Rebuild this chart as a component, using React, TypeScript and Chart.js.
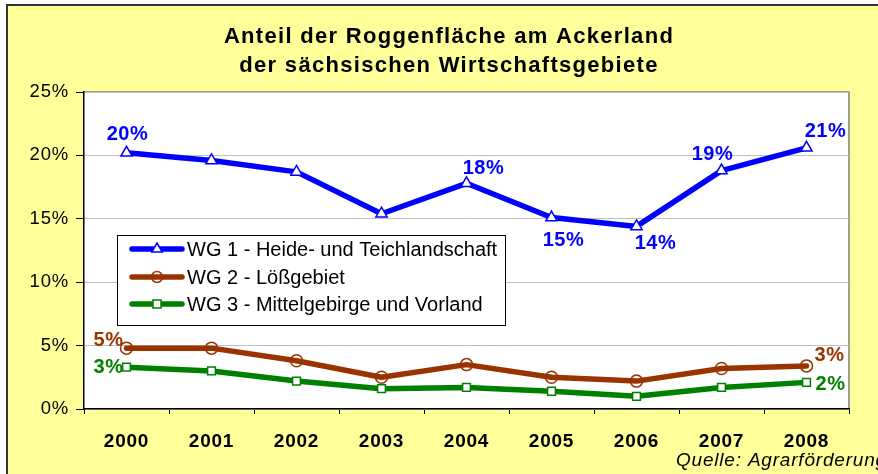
import { useEffect, useRef } from "react";
import { Chart, registerables } from "chart.js";

Chart.register(...registerables);

const years = ["2000", "2001", "2002", "2003", "2004", "2005", "2006", "2007", "2008"];
const wg1 = [20.2, 19.6, 18.7, 15.4, 17.8, 15.1, 14.4, 18.8, 20.6];
const wg2 = [4.8, 4.8, 3.8, 2.5, 3.5, 2.5, 2.2, 3.2, 3.4];
const wg3 = [3.3, 3.0, 2.2, 1.6, 1.7, 1.4, 1.0, 1.7, 2.1];
const seriesNames = [
  "WG 1 - Heide- und Teichlandschaft",
  "WG 2 - Lößgebiet",
  "WG 3 - Mittelgebirge und Vorland",
];
const titleLines = ["Anteil der Roggenfläche am Ackerland", "der sächsischen Wirtschaftsgebiete"];
const sourceText = "Quelle: Agrarförderung";
const yMin = 0;
const yMax = 25;
const yStep = 5;

const FONT = "'Liberation Sans', Arial, sans-serif";
const colors = ["#0000FF", "#993300", "#008000"];
const pointStyles = ["triangle", "circle", "rect"];
const pointFills = ["#FFFFFF", "rgba(0,0,0,0)", "#FFFFFF"];
const pointRadii = [6.5, 6, 5.5];

// which points get a value label, and where the label sits relative to the point
const labelPlacement: { ds: number; idx: number; dx: number; dy: number }[] = [
  { ds: 0, idx: 0, dx: 1, dy: -18 },
  { ds: 0, idx: 4, dx: 17, dy: -15 },
  { ds: 0, idx: 5, dx: 12, dy: 23 },
  { ds: 0, idx: 6, dx: 19, dy: 17 },
  { ds: 0, idx: 7, dx: -9, dy: -16 },
  { ds: 0, idx: 8, dx: 19, dy: -16 },
  { ds: 1, idx: 0, dx: -18, dy: -8 },
  { ds: 1, idx: 8, dx: 23, dy: -10 },
  { ds: 2, idx: 0, dx: -18, dy: 0 },
  { ds: 2, idx: 8, dx: 24, dy: 2 },
];

function drawMarker(ctx: CanvasRenderingContext2D, style: string, cx: number, y: number) {
  ctx.beginPath();
  if (style === "triangle") {
    const r = 6;
    ctx.moveTo(cx, y - r);
    ctx.lineTo(cx + r * 0.87, y + r * 0.5);
    ctx.lineTo(cx - r * 0.87, y + r * 0.5);
    ctx.closePath();
  } else if (style === "circle") {
    ctx.arc(cx, y, 5.5, 0, Math.PI * 2);
  } else {
    ctx.rect(cx - 4, y - 4, 8, 8);
  }
  ctx.fill();
  ctx.stroke();
}

const decorPlugin = {
  id: "decor",
  beforeDraw(chart: any) {
    const { ctx, chartArea: a, width, height } = chart;
    ctx.letterSpacing = "0.8px";
    ctx.save();
    ctx.fillStyle = "#FFFFFF";
    ctx.fillRect(0, 0, width, height);
    ctx.fillStyle = "#FFFF99";
    ctx.fillRect(7, 5, width, height);
    ctx.strokeStyle = "#333333";
    ctx.lineWidth = 2;
    ctx.beginPath();
    ctx.moveTo(7, height + 5);
    ctx.lineTo(7, 5);
    ctx.lineTo(width + 5, 5);
    ctx.stroke();
    ctx.fillStyle = "#FFFFFF";
    ctx.fillRect(a.left, a.top, a.right - a.left, a.bottom - a.top);
    ctx.strokeStyle = "#808080";
    ctx.lineWidth = 1.5;
    ctx.beginPath();
    ctx.moveTo(a.left, a.top);
    ctx.lineTo(a.right, a.top);
    ctx.lineTo(a.right, a.bottom);
    ctx.stroke();
    ctx.restore();
  },
  afterDatasetsDraw(chart: any) {
    const { ctx } = chart;
    ctx.save();
    ctx.letterSpacing = "0.5px";
    ctx.font = `bold 20px ${FONT}`;
    ctx.textAlign = "center";
    ctx.textBaseline = "middle";
    labelPlacement.forEach((p) => {
      const meta = chart.getDatasetMeta(p.ds);
      const el = meta.data[p.idx];
      const v = chart.data.datasets[p.ds].data[p.idx] as number;
      ctx.fillStyle = colors[p.ds];
      ctx.fillText(`${Math.round(v)}%`, el.x + p.dx, el.y + p.dy);
    });
    ctx.restore();
  },
  afterDraw(chart: any) {
    const { ctx } = chart;
    ctx.save();
    // title
    ctx.fillStyle = "#000000";
    ctx.letterSpacing = "1.3px";
    ctx.font = `bold 22px ${FONT}`;
    ctx.textAlign = "center";
    ctx.textBaseline = "middle";
    ctx.fillText(titleLines[0], 449, 37);
    ctx.fillText(titleLines[1], 449, 66);

    // legend
    ctx.letterSpacing = "0px";
    const lx = 117, ly = 235, lw = 388, lh = 90;
    ctx.fillStyle = "#FFFFFF";
    ctx.fillRect(lx, ly, lw, lh);
    ctx.strokeStyle = "#000000";
    ctx.lineWidth = 1;
    ctx.strokeRect(lx + 0.5, ly + 0.5, lw, lh);
    const rows = [249, 277, 304];
    seriesNames.forEach((name, i) => {
      const y = rows[i];
      ctx.strokeStyle = colors[i];
      ctx.lineWidth = 5.5;
      ctx.lineCap = "round";
      ctx.beginPath();
      ctx.moveTo(132, y);
      ctx.lineTo(182, y);
      ctx.stroke();
      ctx.lineCap = "butt";
      ctx.lineWidth = 1.5;
      ctx.fillStyle = pointFills[i];
      drawMarker(ctx, pointStyles[i], 157, y);
      ctx.fillStyle = "#000000";
      ctx.font = `20px ${FONT}`;
      ctx.textAlign = "left";
      ctx.textBaseline = "middle";
      ctx.fillText(name, 187, y + 1);
    });

    // source
    ctx.fillStyle = "#000000";
    ctx.letterSpacing = "0.8px";
    ctx.font = `italic 19px ${FONT}`;
    ctx.textAlign = "left";
    ctx.textBaseline = "middle";
    ctx.fillText(sourceText, 676, 461);
    ctx.restore();
  },
};

export default function App() {
  const ref = useRef<HTMLCanvasElement>(null);
  useEffect(() => {
    if (!ref.current) return;
    const seriesValues = [wg1, wg2, wg3];
    const chart = new Chart(ref.current, {
      type: "line",
      data: {
        labels: years,
        datasets: seriesValues.map((vals, i) => ({
          label: seriesNames[i],
          data: vals,
          borderColor: colors[i],
          borderWidth: 5.5,
          borderJoinStyle: "round" as any,
          borderCapStyle: "round" as any,
          backgroundColor: pointFills[i],
          pointStyle: pointStyles[i] as any,
          pointRadius: pointRadii[i],
          pointBorderWidth: 1.5,
          pointBorderColor: colors[i],
          pointBackgroundColor: pointFills[i],
          tension: 0,
          fill: false,
        })),
      },
      options: {
        animation: false,
        responsive: false,
        devicePixelRatio: 1,
        layout: { padding: { top: 92, right: 29, bottom: 0, left: 0 } },
        plugins: {
          legend: { display: false },
          title: { display: false },
          tooltip: { enabled: false },
        },
        scales: {
          x: {
            offset: true,
            grid: {
              offset: true,
              drawOnChartArea: false,
              tickLength: 5,
              tickColor: "#000000",
            },
            border: { color: "#000000", width: 1.5 },
            ticks: {
              color: "#000000",
              font: { family: FONT, size: 19, weight: "bold" },
              padding: 16,
            },
            afterFit(s: any) {
              s.height = 65;
            },
          },
          y: {
            min: yMin,
            max: yMax,
            ticks: {
              stepSize: yStep,
              color: "#000000",
              font: { family: FONT, size: 18.5 },
              padding: 7,
              callback: (v: any) => `${v}%`,
            },
            grid: {
              color: "#C0C0C0",
              tickColor: "#000000",
              tickLength: 8,
              lineWidth: 1,
            },
            border: { color: "#000000", width: 1.5 },
            afterFit(s: any) {
              s.width = 84;
            },
          },
        },
      },
      plugins: [decorPlugin],
    });
    return () => chart.destroy();
  }, []);
  return (
    <div style={{ position: "absolute", left: 0, top: 0, width: 878, height: 474 }}>
      <canvas ref={ref} width={878} height={474} style={{ display: "block" }} />
    </div>
  );
}
